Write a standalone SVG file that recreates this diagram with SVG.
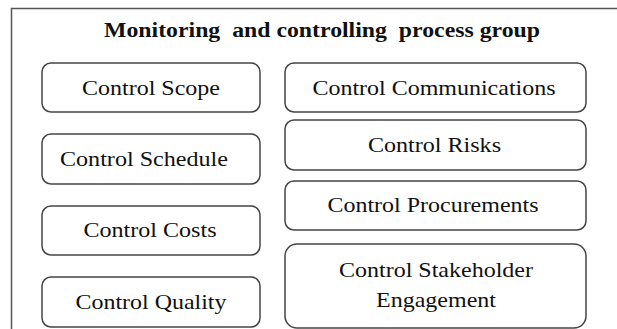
<svg xmlns="http://www.w3.org/2000/svg" width="617" height="329" viewBox="0 0 617 329">
<style>
.box{fill:#fff;stroke:#444;stroke-width:1.5}
.lbl{font-size:21.5px;fill:#111;text-anchor:middle}
.title{font-size:20px;font-weight:bold;fill:#111;text-anchor:middle}
</style>
<rect x="0" y="0" width="617" height="329" fill="#fff"/>
<g id="frame">
<rect x="11.5" y="8.5" width="700" height="400" fill="none" stroke="#555" stroke-width="1.5"/>
<text class="title" font-family="Liberation Serif, Tinos, Times New Roman, serif" x="322" y="37" textLength="436" lengthAdjust="spacingAndGlyphs" xml:space="preserve">Monitoring  and controlling  process group</text>
</g>
<g id="connectors"/>
<g font-family="Liberation Serif, Tinos, Times New Roman, serif">
<g id="control-scope">
<rect class="box" x="42" y="63" width="218" height="49" rx="9"/>
<text class="lbl" x="151" y="95" textLength="138" lengthAdjust="spacingAndGlyphs">Control Scope</text>
</g>
<g id="control-schedule">
<rect class="box" x="42" y="134" width="218" height="50" rx="9"/>
<text class="lbl" x="144" y="166" textLength="168" lengthAdjust="spacingAndGlyphs">Control Schedule</text>
</g>
<g id="control-costs">
<rect class="box" x="42" y="206" width="218" height="49" rx="9"/>
<text class="lbl" x="150" y="237" textLength="133" lengthAdjust="spacingAndGlyphs">Control Costs</text>
</g>
<g id="control-quality">
<rect class="box" x="42" y="277" width="218" height="50" rx="9"/>
<text class="lbl" x="151" y="309" textLength="151" lengthAdjust="spacingAndGlyphs">Control Quality</text>
</g>
<g id="control-communications">
<rect class="box" x="285" y="63" width="301" height="49" rx="9"/>
<text class="lbl" x="434" y="95" textLength="243" lengthAdjust="spacingAndGlyphs">Control Communications</text>
</g>
<g id="control-risks">
<rect class="box" x="285" y="120" width="301" height="50" rx="9"/>
<text class="lbl" x="434.5" y="152" textLength="133" lengthAdjust="spacingAndGlyphs">Control Risks</text>
</g>
<g id="control-procurements">
<rect class="box" x="285" y="181" width="301" height="49" rx="9"/>
<text class="lbl" x="433" y="212" textLength="211" lengthAdjust="spacingAndGlyphs">Control Procurements</text>
</g>
<g id="control-stakeholder-engagement">
<rect class="box" x="285" y="244" width="301" height="84" rx="12"/>
<text class="lbl" x="436" y="277" textLength="194" lengthAdjust="spacingAndGlyphs">Control Stakeholder</text>
<text class="lbl" x="436" y="307" textLength="120" lengthAdjust="spacingAndGlyphs">Engagement</text>
</g>
</g>
</svg>
